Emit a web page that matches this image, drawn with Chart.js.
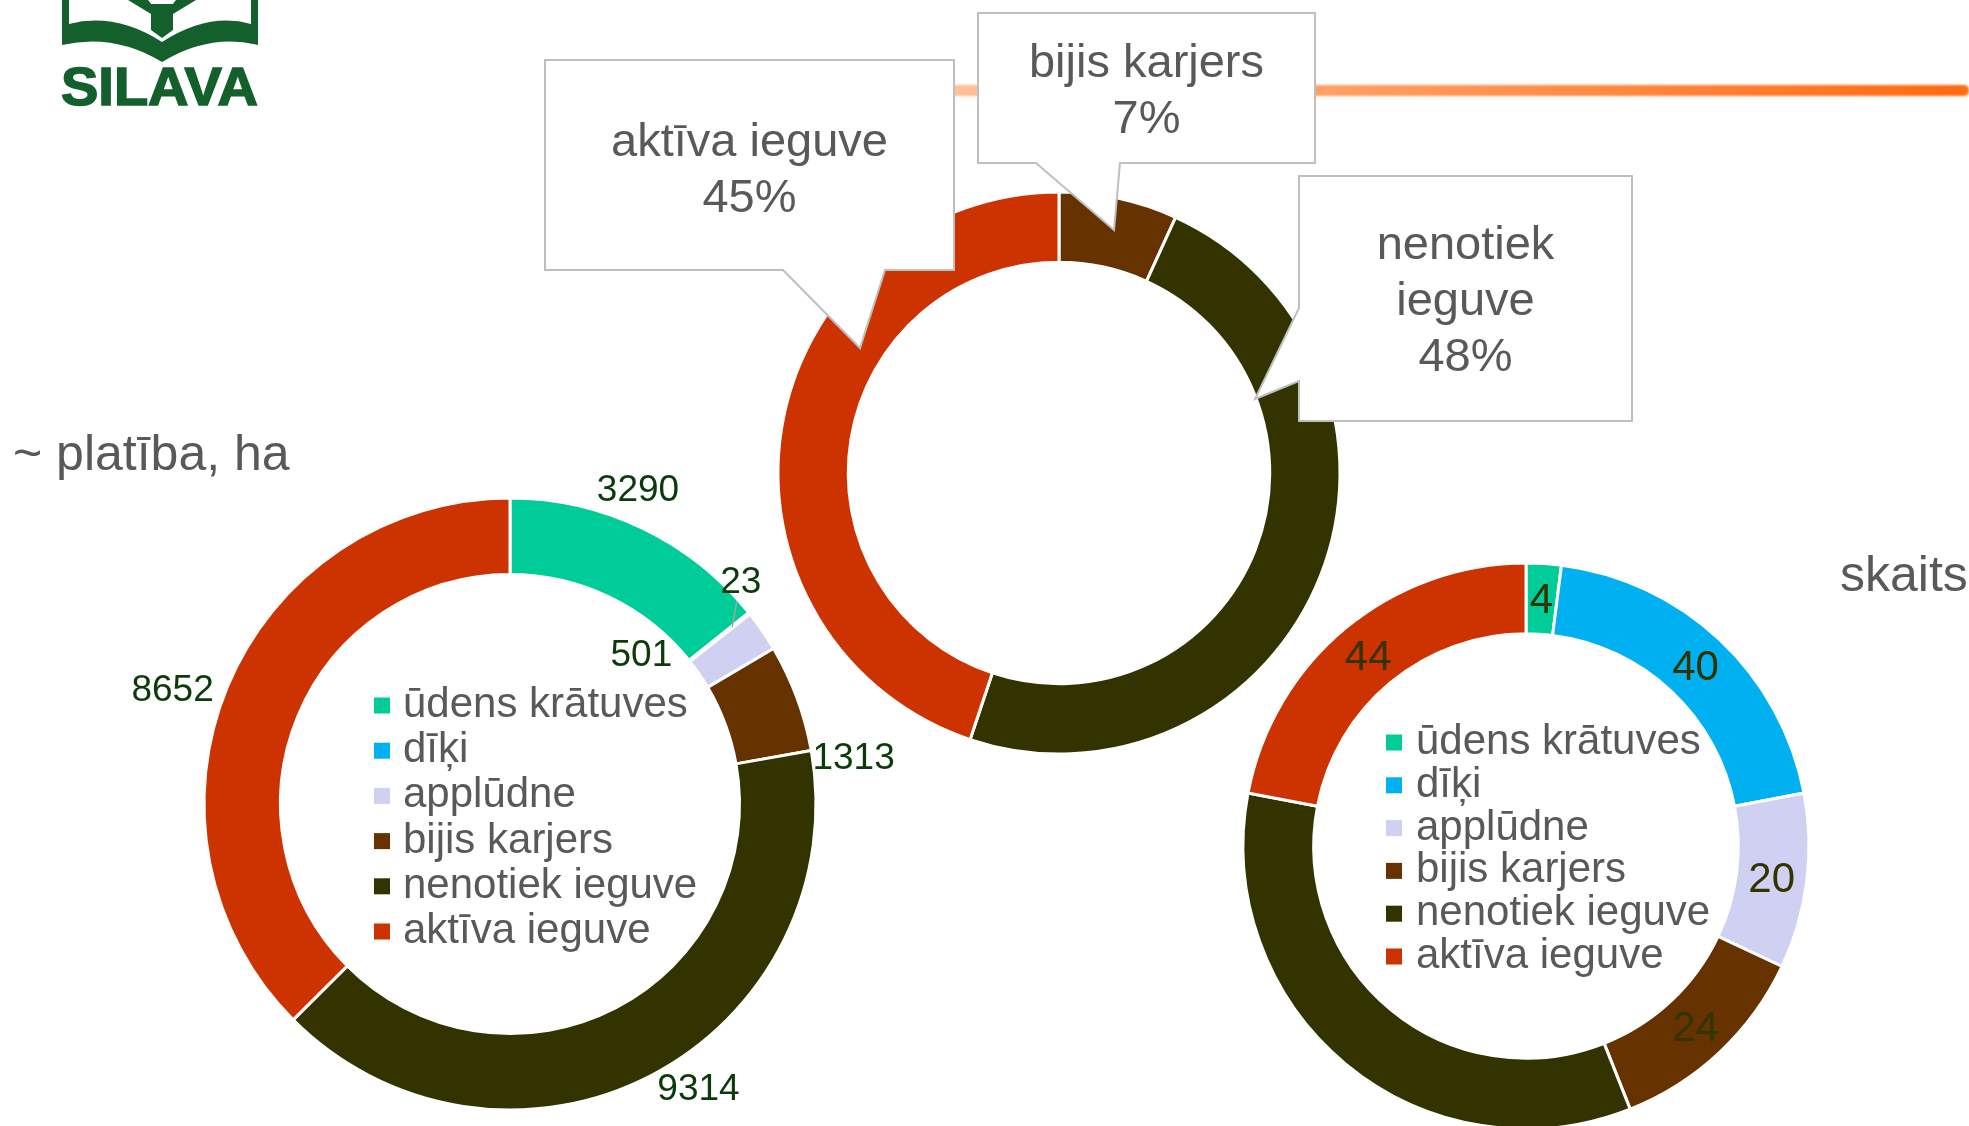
<!DOCTYPE html>
<html lang="lv">
<head>
<meta charset="utf-8">
<title>Karjeri – platība un skaits</title>
<script src="https://cdn.jsdelivr.net/npm/chart.js@4.4.1/dist/chart.umd.min.js"></script>
<style>
    html, body {
        margin: 0;
        padding: 0;
        width: 1969px;
        height: 1126px;
        overflow: hidden;
        background: #ffffff;
        font-family: "Liberation Sans", Arial, sans-serif;
    }
    .abs { position: absolute; }
    .virsraksts {
        font-size: 50px;
        line-height: 50px;
        color: #595959;
        white-space: nowrap;
    }
    .linija {
        left: 600px;
        top: 85px;
        width: 1369px;
        height: 11px;
        border-radius: 5px;
        background: linear-gradient(to right, rgba(255, 150, 80, 0) 0%, rgba(255, 150, 80, 0.6) 26%, #ff6a10 100%);
        filter: blur(1px);
    }
    canvas { position: absolute; left: 0; top: 0; }
</style>
</head>
<body>

<!-- oranžā līnija zem virsraksta -->
<div class="abs linija"></div>

<!-- logo -->
<svg class="abs" style="left:0;top:0" width="280" height="115" viewBox="0 0 280 115">
    <g fill="#14602c">
        <path d="M62,0 L69,0 L69,24 Q115,12 162,42 Q209,12 251,24 L251,0 L258,0 L258,45 Q210,33 162,62 Q114,33 62,45 Z"/>
        <path d="M151,4 L173,4 L173,30 L162,38 L151,30 Z"/>
        <path d="M128,0 L148,0 L156,10 L151,14 Z"/>
        <path d="M196,0 L176,0 L168,10 L173,14 Z"/>
        <text x="61" y="105" font-family="Liberation Sans, Arial" font-weight="bold" font-size="53"
              textLength="197" lengthAdjust="spacingAndGlyphs" stroke="#14602c" stroke-width="1.5">SILAVA</text>
    </g>
</svg>

<div class="abs virsraksts" style="left:13px;top:428px">~ platība, ha</div>
<div class="abs virsraksts" style="left:1840px;top:549px">skaits</div>

<canvas id="platibaChart" width="1969" height="1126"></canvas>
<canvas id="skaitsChart" width="1969" height="1140"></canvas>
<canvas id="ieguveChart" width="1969" height="1126"></canvas>

<script>
// Dati
const kategorijas = ['ūdens krātuves', 'dīķi', 'applūdne', 'bijis karjers', 'nenotiek ieguve', 'aktīva ieguve'];
const krasas = ['#00cc99', '#00b0f0', '#d0d0f2', '#663300', '#333300', '#cc3300'];
const platiba = [3290, 23, 501, 1313, 9314, 8652];
const skaits = [4, 40, 20, 24, 68, 44];

const ieguvesKategorijas = ['bijis karjers', 'nenotiek ieguve', 'aktīva ieguve'];
const ieguvesKrasas = ['#663300', '#333300', '#cc3300'];
const ieguvesPlatiba = [1313, 9314, 8652];

const FONTS = '"Liberation Sans", Arial, sans-serif';

// Polsterējums, lai gredzena centrs un rādiuss būtu vajadzīgajā vietā
function padding(w, h, cx, cy, r) {
    r += 1.5; // borderWidth / 2
    return { left: cx - r, top: cy - r, right: w - cx - r, bottom: h - cy - r };
}

// Vērtību etiķetes pie sektoriem
const sliceLabels = {
    id: 'sliceLabels',
    afterDatasetsDraw(chart, args, opts) {
        const ctx = chart.ctx;
        const meta = chart.getDatasetMeta(0);
        const values = chart.data.datasets[0].data;
        ctx.save();
        ctx.font = opts.font;
        ctx.textAlign = 'center';
        ctx.textBaseline = 'middle';
        meta.data.forEach(function (arc, i) {
            if (opts.hide && opts.hide.indexOf(i) >= 0) return;
            const p = arc.getProps(['x', 'y', 'startAngle', 'endAngle', 'innerRadius', 'outerRadius'], true);
            const nudge = (opts.nudge && opts.nudge[i]) || [0, 0];
            const mid = (p.startAngle + p.endAngle) / 2;
            const a = mid + nudge[0] * Math.PI / 180;
            const r = opts.inside ? (p.innerRadius + p.outerRadius) / 2 : p.outerRadius + nudge[1];
            const x = p.x + Math.cos(a) * r;
            const y = p.y + Math.sin(a) * r;
            if (opts.leaders && opts.leaders.indexOf(i) >= 0) {
                // īsa vadlīnija no sektora līdz etiķetei
                const r0 = p.outerRadius - 22;
                const ax = p.x + Math.cos(mid) * r0;
                const ay = p.y + Math.sin(mid) * r0;
                const d = Math.hypot(ax - x, ay - y);
                ctx.strokeStyle = '#a6a6a6';
                ctx.lineWidth = 1.5;
                ctx.beginPath();
                ctx.moveTo(ax, ay);
                ctx.lineTo(x + (ax - x) / d * 22, y + (ay - y) / d * 22);
                ctx.stroke();
            }
            ctx.fillStyle = opts.color;
            ctx.fillText(String(values[i]), x, y + 3);
        });
        ctx.restore();
    }
};

// Leģenda gredzena vidū
const holeLegend = {
    id: 'holeLegend',
    afterDraw(chart, args, opts) {
        if (!opts.show) return;
        const ctx = chart.ctx;
        const arc = chart.getDatasetMeta(0).data[0];
        const colors = chart.data.datasets[0].backgroundColor;
        ctx.save();
        ctx.font = opts.font;
        ctx.textAlign = 'left';
        ctx.textBaseline = 'middle';
        chart.data.labels.forEach(function (label, i) {
            const y = arc.y + opts.dy + i * opts.step;
            ctx.fillStyle = colors[i];
            ctx.fillRect(arc.x + opts.dx, y - opts.box / 2, opts.box, opts.box);
            ctx.fillStyle = '#595959';
            ctx.fillText(label, arc.x + opts.dx + opts.gap, y);
        });
        ctx.restore();
    }
};

// Norādes (callout) ar procentiem
const callouts = {
    id: 'callouts',
    afterDraw(chart, args, opts) {
        if (!opts.items) return;
        const ctx = chart.ctx;
        const values = chart.data.datasets[0].data;
        const total = values.reduce(function (a, b) { return a + b; }, 0);
        ctx.save();
        opts.items.forEach(function (it) {
            const x0 = it.box[0], y0 = it.box[1], x1 = it.box[2], y1 = it.box[3];
            ctx.beginPath();
            ctx.moveTo(x0, y0);
            ctx.lineTo(x1, y0);
            ctx.lineTo(x1, y1);
            if (it.edge === 'bottom') {
                ctx.lineTo(it.base[1], y1);
                ctx.lineTo(it.tip[0], it.tip[1]);
                ctx.lineTo(it.base[0], y1);
            }
            ctx.lineTo(x0, y1);
            if (it.edge === 'left') {
                ctx.lineTo(x0, it.base[1]);
                ctx.lineTo(it.tip[0], it.tip[1]);
                ctx.lineTo(x0, it.base[0]);
            }
            ctx.closePath();
            ctx.fillStyle = '#ffffff';
            ctx.fill();
            ctx.strokeStyle = '#bfbfbf';
            ctx.lineWidth = 2;
            ctx.stroke();

            const label = chart.data.labels[it.index];
            const pct = Math.round(values[it.index] / total * 100) + '%';
            const lines = (it.wrap ? label.split(' ') : [label]).concat(pct);
            ctx.font = opts.font;
            ctx.fillStyle = '#595959';
            ctx.textAlign = 'center';
            ctx.textBaseline = 'middle';
            const cx = (x0 + x1) / 2;
            const top = (y0 + y1) / 2 + it.shift - (lines.length - 1) * opts.step / 2;
            lines.forEach(function (t, k) {
                ctx.fillText(t, cx, top + k * opts.step);
            });
        });
        ctx.restore();
    }
};

Chart.register(sliceLabels, holeLegend, callouts);

function doughnut(id, labels, values, colors, pad, plugins) {
    const el = document.getElementById(id);
    return new Chart(el.getContext('2d'), {
        type: 'doughnut',
        data: {
            labels: labels,
            datasets: [{
                data: values,
                backgroundColor: colors,
                borderColor: '#ffffff',
                borderWidth: 3
            }]
        },
        options: {
            responsive: false,
            animation: false,
            events: [],
            cutout: '75%',
            layout: { padding: pad },
            plugins: Object.assign({
                legend: { display: false },
                tooltip: { enabled: false }
            }, plugins)
        }
    });
}

// platība, ha
doughnut('platibaChart', kategorijas, platiba, krasas, padding(1969, 1126, 510, 804, 306), {
    sliceLabels: {
        font: '37px ' + FONTS,
        color: '#0b3b0b',
        nudge: [[-3.6, 35], [-5.7, 16], [-14.5, -106], [12.3, 41], [-6.2, 34], [-3.5, 51]],
        leaders: [1]
    },
    holeLegend: { show: true, font: '42px ' + FONTS, dx: -136, dy: -98.5, step: 45.2, box: 16, gap: 29 }
});

// skaits
doughnut('skaitsChart', kategorijas, skaits, krasas, padding(1969, 1140, 1526, 846, 283), {
    sliceLabels: { font: '42px ' + FONTS, color: '#333300', inside: true, hide: [4] },
    holeLegend: { show: true, font: '42px ' + FONTS, dx: -140, dy: -103.5, step: 42.8, box: 16, gap: 30 }
});

// ieguves sadalījums procentos
doughnut('ieguveChart', ieguvesKategorijas, ieguvesPlatiba, ieguvesKrasas, padding(1969, 1126, 1059, 473, 281), {
    sliceLabels: { hide: [0, 1, 2] },
    holeLegend: { show: false },
    callouts: {
        font: '47px ' + FONTS,
        step: 56,
        items: [
            { index: 2, box: [545, 60, 954, 270], edge: 'bottom', base: [783, 885], tip: [860, 348], shift: 6 },
            { index: 0, box: [978, 13, 1315, 163], edge: 'bottom', base: [1036, 1120], tip: [1114, 230], shift: 4 },
            { index: 1, box: [1299, 176, 1632, 421], edge: 'left', base: [308, 381], tip: [1255, 399], shift: 4, wrap: true }
        ]
    }
});
</script>
</body>
</html>
